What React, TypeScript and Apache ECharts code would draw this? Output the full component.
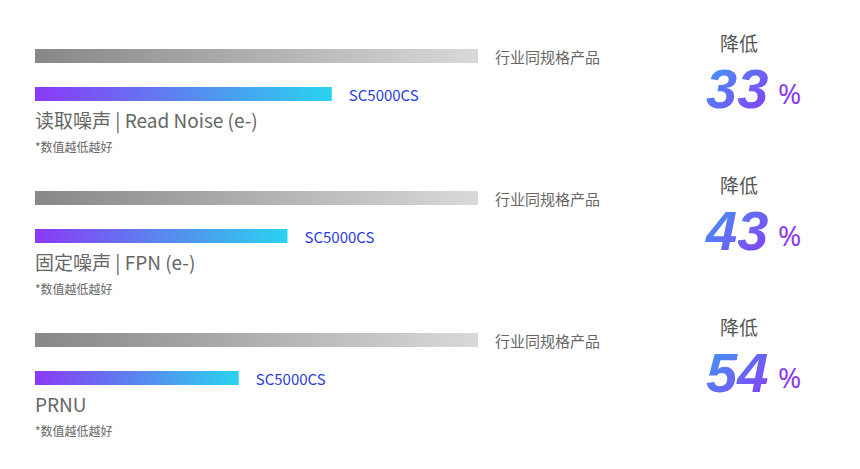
import React, { useEffect, useRef } from "react";
import * as echarts from "echarts";

const metrics = ["读取噪声 | Read Noise (e-)", "固定噪声 | FPN (e-)", "PRNU"];
const products = ["行业同规格产品", "SC5000CS"];
const industryValues = [100, 100, 100];
const scValues = [67, 57, 46];
const noteText = "*数值越低越好";
const reduceText = "降低";

const GROUP_TOPS = [37, 179, 321];
const FONT = "'Noto Sans CJK SC', 'Noto Sans', sans-serif";

export default function App() {
  const ref = useRef<HTMLDivElement>(null);
  useEffect(() => {
    if (!ref.current) return;
    const chart = echarts.init(ref.current, null, { renderer: "svg" });
    const grids: any[] = [];
    const xAxes: any[] = [];
    const yAxes: any[] = [];
    const series: any[] = [];
    const graphics: any[] = [];
    const reductions = scValues.map((v, i) =>
      String(Math.round((1 - v / industryValues[i]) * 100))
    );
    metrics.forEach((m, i) => {
      const top = GROUP_TOPS[i];
      grids.push({ left: 35, width: 443, top, height: 76 });
      xAxes.push({ gridIndex: i, type: "value", min: 0, max: 100, show: false });
      yAxes.push({
        gridIndex: i,
        type: "category",
        data: products,
        inverse: true,
        show: false,
      });
      series.push({
        type: "bar",
        xAxisIndex: i,
        yAxisIndex: i,
        barWidth: 14,
        label: {
          show: true,
          position: "right",
          distance: 17,
          formatter: "{b}",
          fontFamily: FONT,
          fontSize: 15,
        },
        data: [
          {
            value: industryValues[i],
            itemStyle: {
              color: new echarts.graphic.LinearGradient(0, 0, 1, 0, [
                { offset: 0, color: "#878787" },
                { offset: 1, color: "#d9d9d9" },
              ]),
            },
            label: { color: "#666666" },
          },
          {
            value: scValues[i],
            itemStyle: {
              color: new echarts.graphic.LinearGradient(0, 0, 1, 0, [
                { offset: 0, color: "#8a3af6" },
                { offset: 0.5, color: "#5a86ef" },
                { offset: 1, color: "#29d3f0" },
              ]),
            },
            label: { color: "#2b3de0" },
          },
        ],
      });
      const dy = top - 37;
      graphics.push(
        {
          type: "text",
          left: 35,
          top: 110 + dy,
          style: { text: m, fontFamily: FONT, fontSize: 19, fill: "#666666" },
        },
        {
          type: "text",
          left: 35,
          top: 140 + dy,
          style: { text: noteText, fontFamily: FONT, fontSize: 12, fill: "#666666" },
        },
        {
          type: "text",
          x: 739,
          y: 42 + dy,
          style: {
            text: reduceText,
            fontFamily: FONT,
            fontSize: 19,
            fill: "#555555",
            align: "center",
            verticalAlign: "middle",
          },
        },
        {
          type: "text",
          x: 706,
          y: 88 + dy,
          style: {
            text: reductions[i],
            fontFamily: "'Liberation Sans', Arial, sans-serif",
            fontWeight: "bold",
            fontStyle: "italic",
            fontSize: 56,
            align: "left",
            verticalAlign: "middle",
            fill: "#6a6af5",
          },
        },
        {
          type: "text",
          x: 778,
          y: 93 + dy,
          style: {
            text: "%",
            fontFamily: "'Noto Sans', sans-serif",
            fontSize: 28,
            fill: "#8a3cf2",
            align: "left",
            verticalAlign: "middle",
          },
        }
      );
    });
    chart.setOption({
      animation: false,
      grid: grids,
      xAxis: xAxes,
      yAxis: yAxes,
      series,
      graphic: graphics,
    });

    // Apply a gradient fill to the big reduction numbers (SVG text)
    const applyGradient = () => {
      const svg = ref.current?.querySelector("svg");
      if (!svg) return;
      const ns = "http://www.w3.org/2000/svg";
      if (!svg.querySelector("#numGrad")) {
        let defs = svg.querySelector("defs");
        if (!defs) {
          defs = document.createElementNS(ns, "defs");
          svg.insertBefore(defs, svg.firstChild);
        }
        const lg = document.createElementNS(ns, "linearGradient");
        lg.setAttribute("id", "numGrad");
        lg.setAttribute("x1", "0");
        lg.setAttribute("y1", "0");
        lg.setAttribute("x2", "1");
        lg.setAttribute("y2", "1");
        const s1 = document.createElementNS(ns, "stop");
        s1.setAttribute("offset", "0");
        s1.setAttribute("stop-color", "#3aa0f8");
        const s2 = document.createElementNS(ns, "stop");
        s2.setAttribute("offset", "1");
        s2.setAttribute("stop-color", "#8c38f5");
        lg.appendChild(s1);
        lg.appendChild(s2);
        defs.appendChild(lg);
      }
      svg.querySelectorAll("text").forEach((t) => {
        if (reductions.includes((t.textContent || "").trim())) {
          t.setAttribute("fill", "url(#numGrad)");
        }
      });
    };
    applyGradient();
    const timer = setTimeout(applyGradient, 50);
    return () => {
      clearTimeout(timer);
      chart.dispose();
    };
  }, []);
  return (
    <div
      ref={ref}
      style={{ position: "fixed", left: 0, top: 0, width: 860, height: 469, background: "#fff" }}
    />
  );
}
